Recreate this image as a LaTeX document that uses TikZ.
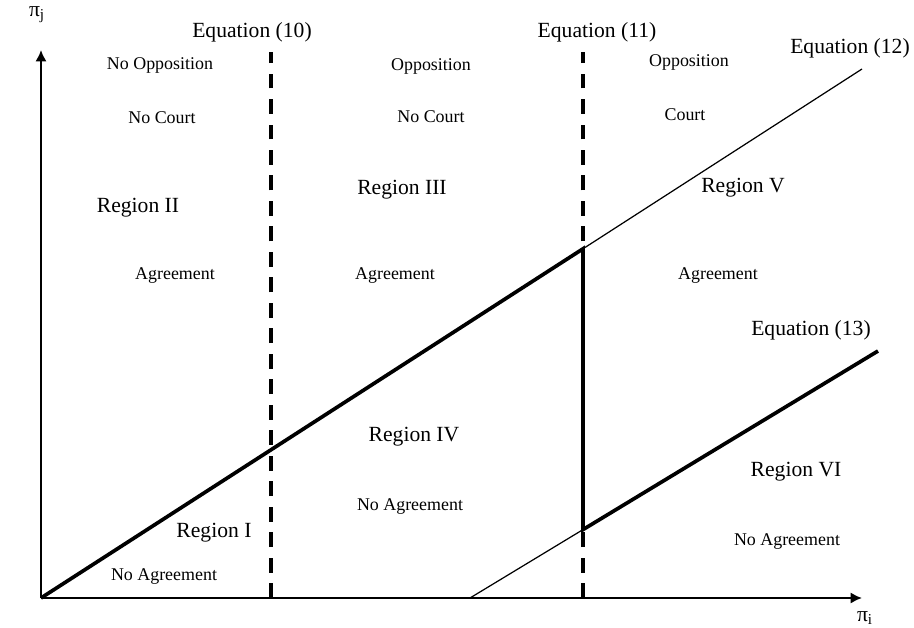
\documentclass[tikz,border=0pt]{standalone}
\usepackage{fontspec}
\setmainfont{Liberation Serif}
\usetikzlibrary{arrows.meta}
\tikzset{
	axis/.style={line width=1.7pt},
	bold/.style={line width=2.1pt},
	thin/.style={line width=0.7pt},
	bound/.style={line width=1.9pt, dash pattern=on 8.5pt off 6pt},
	tip/.style={-{Latex[length=6.5pt, width=6.5pt]}},
	biglabel/.style={font=\fontsize{12.3}{14}\selectfont, inner sep=0pt},
	smalllabel/.style={font=\fontsize{10.2}{12}\selectfont, inner sep=0pt}
}
\begin{document}
\begin{tikzpicture}[x=0.02cm, y=0.02cm]
	\useasboundingbox (-41,-29) rectangle (873,598);
	% points
	\coordinate (O) at (0,0);
	\coordinate (xend) at (821,0);
	\coordinate (yend) at (0,548);
	\coordinate (d1bot) at (230,0);
	\coordinate (d1top) at (230,546);
	\coordinate (d2bot) at (542,0);
	\coordinate (d2top) at (542,546);
	\coordinate (e12end) at (821,529);
	\coordinate (kinkA) at (542,349.2);
	\coordinate (kinkB) at (542,68.4);
	\coordinate (e13start) at (429,0);
	\coordinate (e13end) at (837,247);
	% boundaries
	\draw[bound] (d1bot) -- (d1top);
	\draw[bound] (d2bot) -- (d2top);
	\draw[thin] (O) -- (e12end);
	\draw[thin] (e13start) -- (kinkB);
	\draw[bold] (O) -- (kinkA) -- (kinkB) -- (e13end);
	% axes
	\draw[axis, tip] (O) -- (yend);
	\draw[axis, tip] (O) -- (xend);
	\node[biglabel] (pij) at (-4,583) {π\textsubscript{j}};
	\node[biglabel] (pii) at (824,-20) {π\textsubscript{i}};
	% equation labels
	\node[biglabel] (eq10) at (211,566) {Equation (10)};
	\node[biglabel] (eq11) at (556,566) {Equation (11)};
	\node[biglabel] (eq12) at (809,550) {Equation (12)};
	\node[biglabel] (eq13) at (770,268) {Equation (13)};
	% regions
	\node[smalllabel] (opp2) at (119,533) {No Opposition};
	\node[smalllabel] (court2) at (121,480) {No Court};
	\node[biglabel] (reg2) at (97,390) {Region II};
	\node[smalllabel] (agr2) at (134,322) {Agreement};
	\node[smalllabel] (opp3) at (390,532) {Opposition};
	\node[smalllabel] (court3) at (390,481) {No Court};
	\node[biglabel] (reg3) at (361,408) {Region III};
	\node[smalllabel] (agr3) at (354,322) {Agreement};
	\node[smalllabel] (opp5) at (648,536) {Opposition};
	\node[smalllabel] (court5) at (644,483) {Court};
	\node[biglabel] (reg5) at (702,410) {Region V};
	\node[smalllabel] (agr5) at (677,322) {Agreement};
	\node[biglabel] (reg4) at (373,161) {Region IV};
	\node[smalllabel] (nagr4) at (369,91) {No Agreement};
	\node[biglabel] (reg1) at (173,65) {Region I};
	\node[smalllabel] (nagr1) at (123,21) {No Agreement};
	\node[biglabel] (reg6) at (755,126) {Region VI};
	\node[smalllabel] (nagr6) at (746,56) {No Agreement};
\end{tikzpicture}
\end{document}
